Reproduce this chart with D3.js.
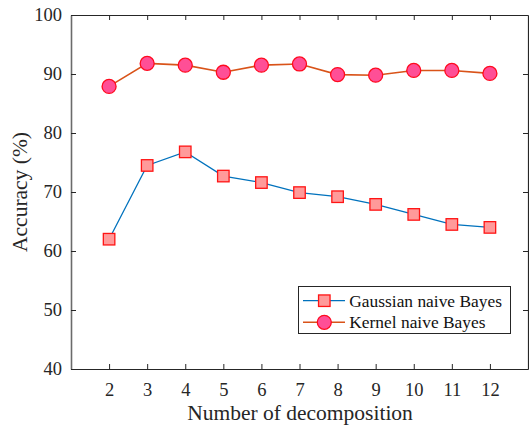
<!DOCTYPE html>
<html>
<head>
<meta charset="utf-8">
<script src="https://cdn.jsdelivr.net/npm/d3@7"></script>
<style>
  html, body { margin: 0; padding: 0; background: #fff; }
  svg { display: block; font-family: "Liberation Serif", "Times New Roman", serif; }
</style>
</head>
<body>
<svg id="chart" width="529" height="429"></svg>
<script>
// Number of decomposition levels
const decompositions = [2, 3, 4, 5, 6, 7, 8, 9, 10, 11, 12];
// Classification accuracy (%) per classifier
const gaussianNB = [62.0, 74.5, 76.8, 72.7, 71.6, 69.9, 69.2, 67.9, 66.2, 64.5, 64.0];
const kernelNB   = [87.9, 91.8, 91.5, 90.3, 91.5, 91.7, 89.9, 89.8, 90.6, 90.6, 90.1];
const yTicks = [40, 50, 60, 70, 80, 90, 100];
const seriesNames = ["Gaussian naive Bayes", "Kernel naive Bayes"];

const svg = d3.select("#chart");
const margin = { left: 71, right: 1, top: 15, bottom: 60 };
const W = 529, H = 429;
const x0 = margin.left, x1 = W - margin.right, y0 = margin.top, y1 = H - margin.bottom;

const x = d3.scaleLinear().domain([1, 13]).range([x0, x1]);
const y = d3.scaleLinear().domain([40, 100]).range([y1, y0]);

const axisColor = "#262626";
const tickLen = 5;

// axis box with inward ticks on all four sides
const gBottom = svg.append("g").attr("transform", `translate(0,${y1})`)
  .call(d3.axisBottom(x).tickValues(decompositions).tickSizeInner(-tickLen).tickSizeOuter(0).tickPadding(14));
const gTop = svg.append("g").attr("transform", `translate(0,${y0})`)
  .call(d3.axisTop(x).tickValues(decompositions).tickSizeInner(-tickLen).tickSizeOuter(0).tickFormat(""));
const gLeft = svg.append("g").attr("transform", `translate(${x0},0)`)
  .call(d3.axisLeft(y).tickValues(yTicks).tickSizeInner(-tickLen).tickSizeOuter(0).tickPadding(9));
const gRight = svg.append("g").attr("transform", `translate(${x1},0)`)
  .call(d3.axisRight(y).tickValues(yTicks).tickSizeInner(-tickLen).tickSizeOuter(0).tickFormat(""));

[gBottom, gTop, gLeft, gRight].forEach(g => {
  g.select(".domain").attr("stroke", axisColor).attr("stroke-width", 1.2);
  g.selectAll(".tick line").attr("stroke", axisColor).attr("stroke-width", 1);
  g.selectAll(".tick text").attr("fill", axisColor).attr("font-size", 18.5)
    .attr("font-family", "Liberation Serif, serif");
});
gLeft.select(".domain").attr("stroke", "#6b6b6b").attr("stroke-width", 1.6);

// axis titles
svg.append("text")
  .attr("x", 300).attr("y", 420)
  .attr("text-anchor", "middle").attr("font-size", 21.5).attr("fill", axisColor)
  .text("Number of decomposition");
svg.append("text")
  .attr("transform", `translate(27,${(y0 + y1) / 2}) rotate(-90)`)
  .attr("text-anchor", "middle").attr("font-size", 21.5).attr("fill", axisColor)
  .text("Accuracy (%)");

const line = d3.line().x((d, i) => x(decompositions[i])).y(d => y(d));

const gaussLine = "#0072BD", kernelLine = "#D95319";
const squareFill = "#ff9a9a", squareStroke = "#ff1414";
const circleFill = "#ff4f96", circleStroke = "#ff0a1e";
const sq = 11.5, cr = 7;

// Gaussian naive Bayes
svg.append("path").datum(gaussianNB).attr("d", line)
  .attr("fill", "none").attr("stroke", gaussLine).attr("stroke-width", 1.3);
svg.append("g").selectAll("rect").data(gaussianNB).join("rect")
  .attr("x", (d, i) => x(decompositions[i]) - sq / 2)
  .attr("y", d => y(d) - sq / 2)
  .attr("width", sq).attr("height", sq)
  .attr("fill", squareFill).attr("stroke", squareStroke).attr("stroke-width", 1.3);

// Kernel naive Bayes
svg.append("path").datum(kernelNB).attr("d", line)
  .attr("fill", "none").attr("stroke", kernelLine).attr("stroke-width", 1.6);
svg.append("g").selectAll("circle").data(kernelNB).join("circle")
  .attr("cx", (d, i) => x(decompositions[i]))
  .attr("cy", d => y(d))
  .attr("r", cr)
  .attr("fill", circleFill).attr("stroke", circleStroke).attr("stroke-width", 1.3);

// legend
const lg = svg.append("g");
lg.append("rect").attr("x", 298.5).attr("y", 286.5).attr("width", 212).attr("height", 47)
  .attr("fill", "#fff").attr("stroke", axisColor).attr("stroke-width", 1);
const rows = [
  { name: seriesNames[0], y: 300.7, color: gaussLine, kind: "square" },
  { name: seriesNames[1], y: 322.3, color: kernelLine, kind: "circle" }
];
rows.forEach(r => {
  lg.append("line").attr("x1", 303).attr("x2", 345).attr("y1", r.y).attr("y2", r.y)
    .attr("stroke", r.color).attr("stroke-width", r.kind === "circle" ? 1.6 : 1.3);
  if (r.kind === "square") {
    lg.append("rect").attr("x", 324.3 - sq / 2).attr("y", r.y - sq / 2).attr("width", sq).attr("height", sq)
      .attr("fill", squareFill).attr("stroke", squareStroke).attr("stroke-width", 1.3);
  } else {
    lg.append("circle").attr("cx", 324.3).attr("cy", r.y).attr("r", cr)
      .attr("fill", circleFill).attr("stroke", circleStroke).attr("stroke-width", 1.3);
  }
  lg.append("text").attr("x", 349.3).attr("y", r.y).attr("dy", "0.35em")
    .attr("font-size", 17.4).attr("fill", "#111").text(r.name);
});
</script>
</body>
</html>
